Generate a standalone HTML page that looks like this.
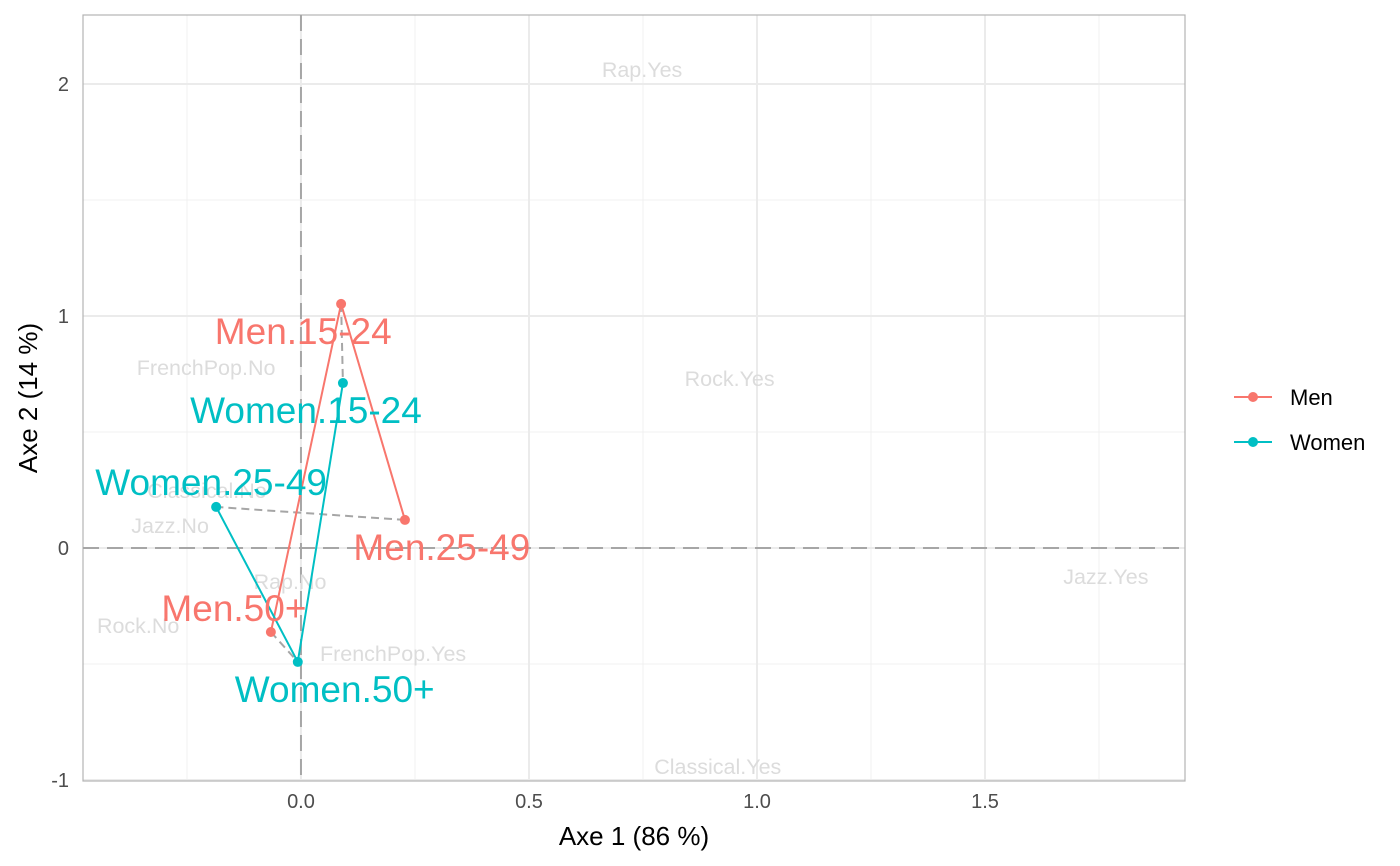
<!DOCTYPE html>
<html><head><meta charset="utf-8"><style>
html,body{margin:0;padding:0;background:#fff;}
svg{display:block;font-family:"Liberation Sans",sans-serif;}
</style></head><body>
<svg id="chart" width="1400" height="866"></svg>
<script>
const xTicks=[0,0.5,1,1.5];
const xTickLabels=["0.0","0.5","1.0","1.5"];
const xMinor=[-0.25,0.25,0.75,1.25,1.75];
const yTicks=[-1,0,1,2];
const yTickLabels=["-1","0","1","2"];
const yMinor=[-0.5,0.5,1.5];
const rowNames=["Men.15-24","Men.25-49","Men.50+","Women.15-24","Women.25-49","Women.50+"];
const rowX=[0.088,0.228,-0.066,0.092,-0.186,-0.007];
const rowY=[1.052,0.121,-0.362,0.711,0.177,-0.491];
const rowGroup=["Men","Men","Men","Women","Women","Women"];
const menPath=[1,0,2];
const womenPath=[4,5,3];
const pairs=[[0,3],[1,4],[2,5]];
const labelDX=[-0.083,0.081,-0.081,-0.081,-0.011,0.081];
const labelDY=[-0.116,-0.116,0.103,-0.116,0.108,-0.116];
const colNames=["Rap.Yes","FrenchPop.No","Rock.Yes","Classical.No","Jazz.No","Rap.No","Jazz.Yes","Rock.No","FrenchPop.Yes","Classical.Yes"];
const colX=[0.748,-0.208,0.94,-0.206,-0.287,-0.024,1.765,-0.357,0.202,0.914];
const colY=[2.06,0.776,0.728,0.246,0.095,-0.147,-0.125,-0.336,-0.457,-0.944];

const L=83,R=1185,T=15,B=781;
const xMin=-0.478,xMax=(R-301)/456,yMin=(548-B)/232,yMax=(548-T)/232;
const sx=v=>L+(v-xMin)/(xMax-xMin)*(R-L);
const sy=v=>B-(v-yMin)/(yMax-yMin)*(B-T);
const colors={Men:"#F8766D",Women:"#00BFC4"};
const svg=document.getElementById('chart');
const NS="http://www.w3.org/2000/svg";
function mk(tag,attrs,parent){const e=document.createElementNS(NS,tag);for(const k in attrs)e.setAttribute(k,attrs[k]);(parent||svg).appendChild(e);return e;}

xMinor.forEach(v=>{const l=mk('line',{x1:sx(v),x2:sx(v),y1:T,y2:B,stroke:'#f0f0f0','stroke-width':1});

});
yMinor.forEach(v=>{const l=mk('line',{x1:L,x2:R,y1:sy(v),y2:sy(v),stroke:'#f0f0f0','stroke-width':1});

});
xTicks.forEach((v,i)=>{const l=mk('line',{x1:sx(v),x2:sx(v),y1:T,y2:B,stroke:'#ebebeb','stroke-width':2});


const t=mk('text',{x:sx(v),y:B+27,'text-anchor':'middle','font-size':20,fill:'#4d4d4d'});t.textContent=xTickLabels[i];

});
yTicks.forEach((v,i)=>{const l=mk('line',{x1:L,x2:R,y1:sy(v),y2:sy(v),stroke:'#ebebeb','stroke-width':2});


const t=mk('text',{x:L-14,y:sy(v)+7,'text-anchor':'end','font-size':20,fill:'#4d4d4d'});t.textContent=yTickLabels[i];

});
const border=mk('rect',{x:L,y:T,width:R-L,height:B-T,fill:'none',stroke:'#b3b3b3','stroke-width':1.2});


const h0=mk('line',{x1:L,x2:R,y1:sy(0),y2:sy(0),stroke:'#a6a6a6','stroke-width':2,'stroke-dasharray':'16,8'});


const v0=mk('line',{x1:sx(0),x2:sx(0),y1:T,y2:B,stroke:'#a6a6a6','stroke-width':2,'stroke-dasharray':'16,8'});



colNames.forEach((n,i)=>{const t=mk('text',{x:sx(colX[i]),y:sy(colY[i])+7,'text-anchor':'middle','font-size':21.5,fill:'#dcdcdc'});t.textContent=n;

});

pairs.forEach(p=>{const l=mk('line',{x1:sx(rowX[p[0]]),y1:sy(rowY[p[0]]),x2:sx(rowX[p[1]]),y2:sy(rowY[p[1]]),stroke:'#a6a6a6','stroke-width':2,'stroke-dasharray':'8,5'});

});
[[menPath,'Men'],[womenPath,'Women']].forEach(([path,g])=>{
const pl=mk('polyline',{points:path.map(i=>sx(rowX[i])+','+sy(rowY[i])).join(' '),fill:'none',stroke:colors[g],'stroke-width':2});

});
rowNames.forEach((n,i)=>{const c=mk('circle',{cx:sx(rowX[i]),cy:sy(rowY[i]),r:5,fill:colors[rowGroup[i]]});


const t=mk('text',{x:sx(rowX[i]+labelDX[i]),y:sy(rowY[i]+labelDY[i])+13,'text-anchor':'middle','font-size':37,fill:colors[rowGroup[i]]});t.textContent=n;

});

const xt=mk('text',{x:634,y:845,'text-anchor':'middle','font-size':26,fill:'#000'});xt.textContent='Axe 1 (86 %)';


const yt=mk('text',{x:0,y:0,transform:'translate(37,398) rotate(-90)','text-anchor':'middle','font-size':26,fill:'#000'});yt.textContent='Axe 2 (14 %)';



[['Men',397],['Women',442]].forEach(([g,y])=>{
const gr=mk('g',{});


mk('line',{x1:1234,x2:1272,y1:y,y2:y,stroke:colors[g],'stroke-width':2},gr);
mk('circle',{cx:1253,cy:y,r:5,fill:colors[g]},gr);
const t=mk('text',{x:1290,y:y+8,'font-size':22,fill:'#000'},gr);t.textContent=g;});
</script>
</body></html>
